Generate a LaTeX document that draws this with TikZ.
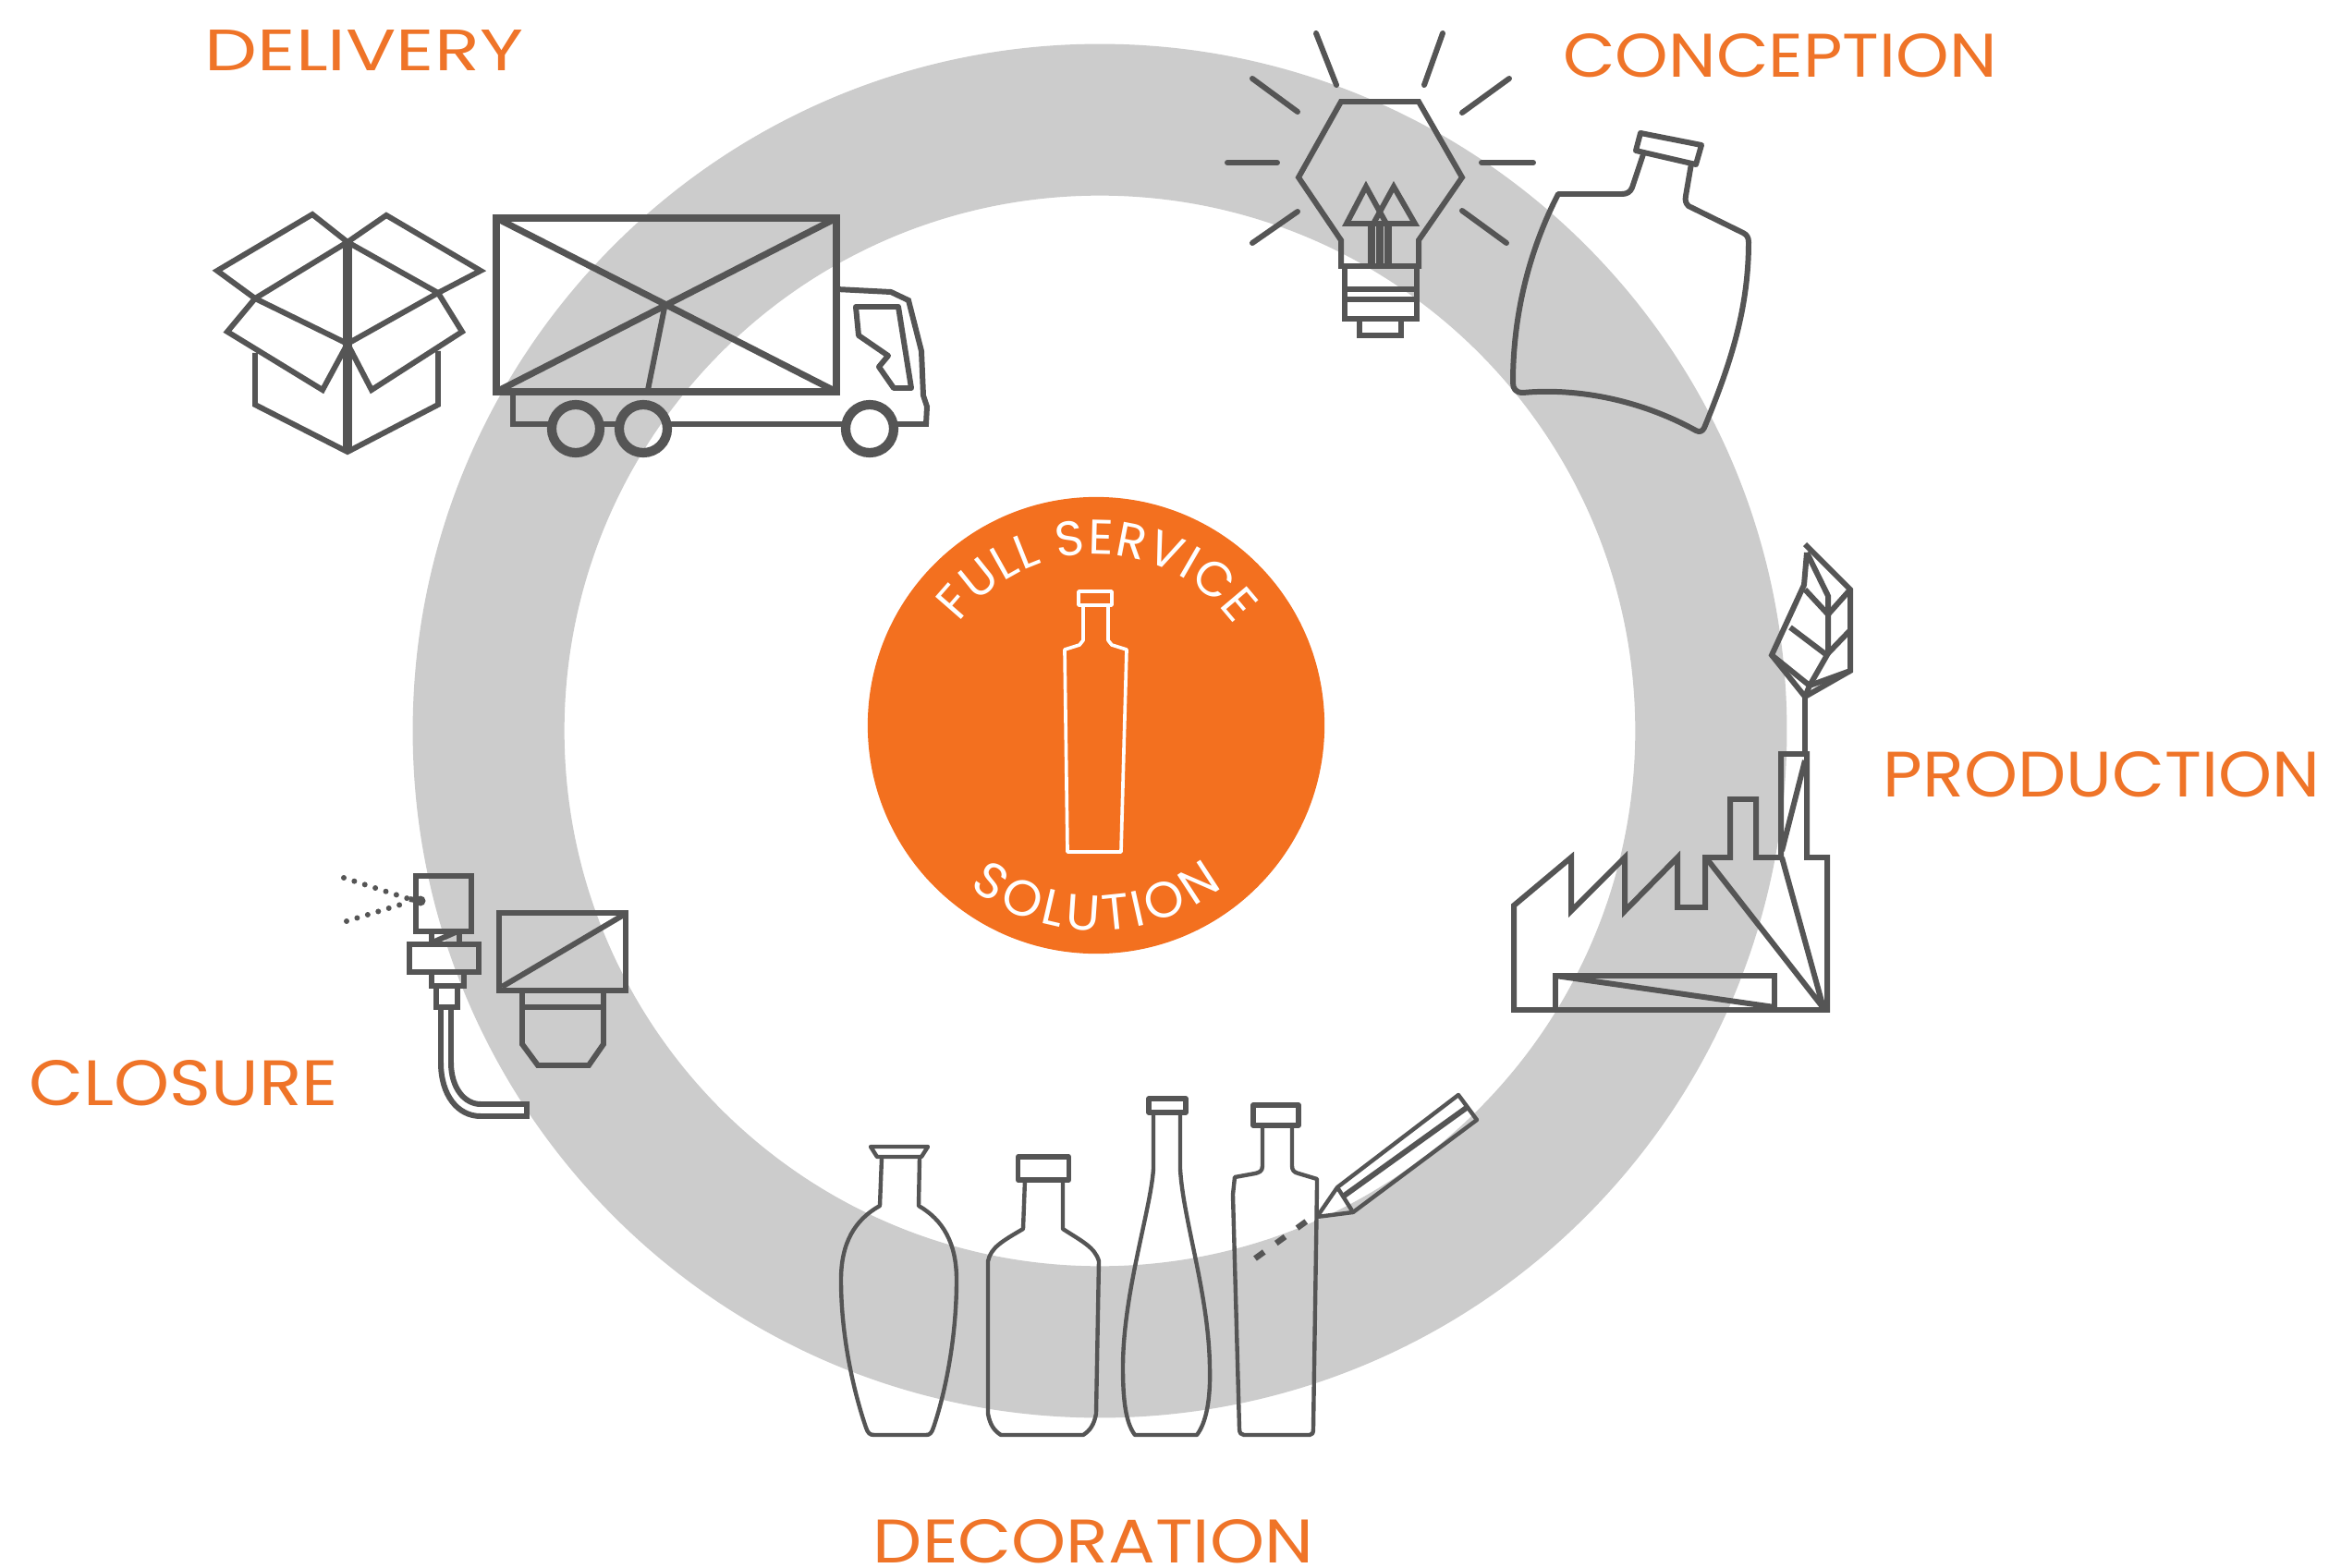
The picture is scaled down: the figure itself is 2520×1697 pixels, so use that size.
\documentclass[tikz,border=0pt]{standalone}
\usepackage{fontspec}
\usepackage{graphicx}
\setmainfont{Poppins}
\usetikzlibrary{decorations.text}
\definecolor{ringgray}{HTML}{CCCCCC}
\definecolor{brandorange}{HTML}{F3701F}
\definecolor{labelorange}{HTML}{EF7428}
\definecolor{ink}{HTML}{555555}
\tikzset{
  icon/.style={draw=ink,line width=1.7pt,line join=miter,line cap=butt},
  thin icon/.style={draw=ink,line width=1.25pt,line join=round},
  ray/.style={draw=ink,line width=1.7pt,line cap=round},
  label text/.style={text=labelorange,inner sep=0pt,anchor=center},
  whiteline/.style={draw=white,line width=1.05pt,line join=round}
}
\newcommand{\lab}[3]{\resizebox{#1cm}{#2cm}{#3}}
\begin{document}
\begin{tikzpicture}[x=0.01cm,y=-0.01cm]
\useasboundingbox (0,0) rectangle (2520,1697);
\fill[white] (0,0) rectangle (2520,1697);
% ring
\fill[ringgray,even odd rule] (1190,791) circle[radius=7.43cm] (1190,791) circle[radius=5.79cm];
% centre disc
\fill[brandorange] (1186,785) circle[radius=2.47cm];
\draw[whiteline] (1172,693) -- (1172,655) -- (1167,655) -- (1167,640) -- (1203,640) -- (1203,655) -- (1199,655) -- (1199,693) -- (1203,698) -- (1219,703) -- (1213,922) -- (1155,922) -- (1152,703) -- (1168,698) -- cycle;
\draw[whiteline] (1167,655) -- (1203,655);
\path[decorate,decoration={text along path,text align={fit to path},text={|\fontsize{15pt}{15pt}\selectfont\color{white}|FULL SERVICE}}]
  (1186,785) ++(143:1.85cm) arc[start angle=143,end angle=36,radius=1.85cm];
\path[decorate,decoration={text along path,text align={fit to path},text={|\fontsize{15.5pt}{15.5pt}\selectfont\color{white}|SOLUTION}}]
  (1186,785) ++(232:2.22cm) arc[start angle=232,end angle=308,radius=2.22cm];
% labels
\node[label text] (delivery) at (394,54) {\lab{3.44}{0.44}{DELIVERY}};
\node[label text] (conception) at (1926,60) {\lab{4.69}{0.47}{CONCEPTION}};
\node[label text] (production) at (2274,838) {\lab{4.72}{0.49}{PRODUCTION}};
\node[label text] (closure) at (199,1172) {\lab{3.34}{0.49}{CLOSURE}};
\node[label text] (decoration) at (1183,1668) {\lab{4.76}{0.47}{DECORATION}};
% box
\draw[icon] (338,232) -- (235,293) -- (276,323) -- (376,262) -- cycle;
\draw[icon] (418,233) -- (520,293) -- (474,317) -- (376,262) -- cycle;
\draw[icon] (276,323) -- (376,372) -- (474,317);
\draw[icon] (276,323) -- (246,359) -- (349,422) -- (376,372);
\draw[icon] (474,317) -- (500,359) -- (402,422) -- (376,372);
\draw[icon] (276,382) -- (276,438) -- (376,489) -- (474,438) -- (474,380);
\draw[draw=ink,line width=2.8pt] (376,262) -- (376,489);
% truck
\draw[icon,line width=2pt] (537,236) rectangle (905,424);
\draw[icon,line width=2pt] (537,236) -- (905,424) (537,424) -- (905,236);
\draw[icon] (720,328) -- (701,422);
\draw[icon] (555,424) -- (555,459) -- (593,459) (653,459) -- (666,459) (726,459) -- (911,459) (971,459) -- (1002,459)
  -- (1003,440) -- (999,428) -- (997,380) -- (983,325) -- (964,316) -- (905,313);
\draw[icon,line join=round] (926,332) -- (972,332) -- (986,420) -- (967,420) -- (951,397) -- (961,385) -- (929,363) -- cycle;
\foreach \wx in {623,696,941} \draw[draw=ink,line width=2.9pt] (\wx,464) circle[radius=0.26cm];
% bulb
\draw[icon] (1451,110) -- (1535,110) -- (1582,192) -- (1535,260) -- (1535,288) -- (1451,288) -- (1451,260) -- (1405,192) -- cycle;
\foreach \a/\b/\c/\d in {1424/36/1446/92,1561/36/1541/92,1633/85/1582/122,1659/176/1603/176,1630/263/1582/228,1355/85/1404/121,1328/176/1382/176,1355/263/1404/229}
  \draw[ray] (\a,\b) -- (\c,\d);
\draw[icon] (1478,202) -- (1457,242) -- (1500,242) -- cycle;
\draw[icon] (1508,202) -- (1486,242) -- (1531,242) -- cycle;
\draw[icon,line width=2.2pt] (1484,242) -- (1484,288) (1493,242) -- (1493,288) (1502,242) -- (1502,288);
\draw[icon] (1455,288) rectangle (1533,345);
\draw[icon] (1455,313) -- (1533,313) (1455,324) -- (1533,324);
\draw[icon] (1471,345) -- (1471,363) -- (1516,363) -- (1516,345);
% conception bottle
\draw[icon,line join=round] (1775,144) -- (1841,157) -- (1835,178) -- (1770,163) -- cycle;
\draw[icon,line join=round] (1778,167) -- (1766,203) .. controls (1764,208) and (1760,210) .. (1755,210) -- (1686,210)
  .. controls (1655,270) and (1637,340) .. (1637,414) .. controls (1637,421) and (1640,425) .. (1648,425)
  .. controls (1700,420) and (1770,430) .. (1835,466) .. controls (1839,468) and (1842,467) .. (1844,463)
  .. controls (1872,395) and (1892,335) .. (1892,262) .. controls (1892,257) and (1890,254) .. (1886,252) -- (1827,223) .. controls (1824,220) and (1823,217) .. (1824,212) -- (1830,177);
% factory
\draw[icon] (1638,1093) -- (1638,980) -- (1700,928) -- (1700,986) -- (1758,928) -- (1758,986) -- (1815,928) -- (1815,982) -- (1845,982) -- (1845,928) -- (1872,928) -- (1872,865) -- (1900,865) -- (1900,928) -- (1927,928) -- (1927,816) -- (1955,816) -- (1955,928) -- (1977,928) -- (1977,1093) -- cycle;
\draw[icon] (1848,931) -- (1973,1091) (1928,928) -- (1973,1091);
\draw[icon] (1928,921) -- (1953,823);
\draw[icon] (1683,1093) -- (1683,1056) -- (1920,1056) -- (1920,1093);
\draw[icon] (1683,1056) -- (1920,1090);
\draw[icon] (1953,816) -- (1953,754);
% leaf
\draw[icon] (1953,589) -- (2002,638) -- (2002,726) -- (1953,754) -- (1917,709) -- (1952,633) -- (1955,598);
\draw[icon] (1955,598) -- (1978,645) -- (1978,707) -- (1958,742) -- (1953,754);
\draw[icon] (2002,638) -- (1978,665) -- (1953,638);
\draw[icon] (1937,679) -- (1978,710) (2002,682) -- (1978,707);
\draw[icon] (1917,709) -- (1958,742) -- (2002,726);
% bottle 1
\draw[thin icon] (942,1241) -- (1004,1241) -- (997,1252) -- (949,1252) -- cycle;
\draw[thin icon] (954,1253) -- (952,1305) .. controls (925,1320) and (910,1345) .. (910,1385)
  .. controls (910,1450) and (925,1510) .. (937,1545) .. controls (939,1551) and (941,1553) .. (946,1553) -- (1002,1553)
  .. controls (1006,1553) and (1008,1551) .. (1010,1545) .. controls (1022,1510) and (1035,1450) .. (1035,1385)
  .. controls (1035,1345) and (1020,1320) .. (994,1305) -- (995,1253);
% bottle 2
\draw[thin icon,line width=1.5pt] (1101.5,1252) rectangle (1156.5,1277);
\draw[thin icon] (1109,1277) -- (1107,1330) .. controls (1085,1343) and (1072,1350) .. (1069,1365) -- (1069,1530)
  .. controls (1071,1541) and (1075,1548) .. (1083,1553) -- (1172,1553) .. controls (1180,1548) and (1184,1541) .. (1186,1530)
  -- (1189,1365) .. controls (1185,1350) and (1170,1343) .. (1150,1330) -- (1150,1277);
% bottle 3
\draw[thin icon,line width=1.5pt] (1243,1189) rectangle (1283,1204);
\draw[thin icon] (1248,1205) -- (1248,1265) .. controls (1245,1310) and (1215,1400) .. (1215,1480)
  .. controls (1215,1515) and (1218,1540) .. (1228,1553) -- (1295,1553) .. controls (1305,1540) and (1310,1515) .. (1309,1480)
  .. controls (1308,1400) and (1280,1320) .. (1277,1265) -- (1277,1205);
% bottle 4
\draw[thin icon,line width=1.5pt] (1356,1196) rectangle (1405,1218);
\draw[thin icon] (1366,1218) -- (1366,1262) .. controls (1366,1268) and (1362,1269) .. (1358,1270) -- (1336,1274) -- (1334,1293)
  -- (1341,1546) .. controls (1341,1551) and (1343,1553) .. (1346,1553) -- (1417,1553) .. controls (1420,1553) and (1421,1551) .. (1421,1546)
  -- (1425,1284) -- (1425,1276) -- (1405,1270) .. controls (1400,1269) and (1398,1266) .. (1398,1262) -- (1398,1218);
% pencil
\draw[thin icon] (1425,1317) -- (1447,1285) -- (1464,1312) -- cycle;
\draw[thin icon] (1447,1285) -- (1578,1185) -- (1598,1212) -- (1464,1312);
\draw[thin icon,line width=1.7pt] (1453,1295) -- (1588,1198);
\draw[draw=ink,line width=1.8pt,dash pattern=on 3.4pt off 4.6pt] (1358,1362) -- (1416,1320);
% closure
\draw[icon] (450,948) rectangle (510,1008);
\draw[icon] (467,1008) -- (467,1022) (497,1008) -- (497,1022) (468,1020) -- (495,1008);
\draw[icon] (443,1022) rectangle (518,1052);
\draw[icon] (467,1052) -- (467,1067) -- (502,1067) -- (502,1052);
\draw[icon] (472,1067) rectangle (495,1090);
\draw[icon] (477,1090) -- (477,1150) .. controls (477,1185) and (495,1208) .. (520,1208) -- (570,1208) -- (570,1195) -- (520,1195)
  .. controls (503,1195) and (488,1178) .. (488,1150) -- (488,1090);
\fill[ink] (455,975) circle[radius=0.055cm];
\draw[icon] (443,973) -- (455,975);
\draw[draw=ink,line width=1.7pt,line cap=round,dash pattern=on 0pt off 3.4pt] (372,950) -- (443,973) (375,997) -- (440,977);
\draw[icon] (540,988) rectangle (677,1072);
\draw[icon] (543,1068) -- (675,990);
\draw[icon] (565,1072) -- (565,1130) -- (582,1153) -- (637,1153) -- (653,1130) -- (653,1072);
\draw[icon] (565,1090) -- (653,1090);
\end{tikzpicture}
\end{document}
